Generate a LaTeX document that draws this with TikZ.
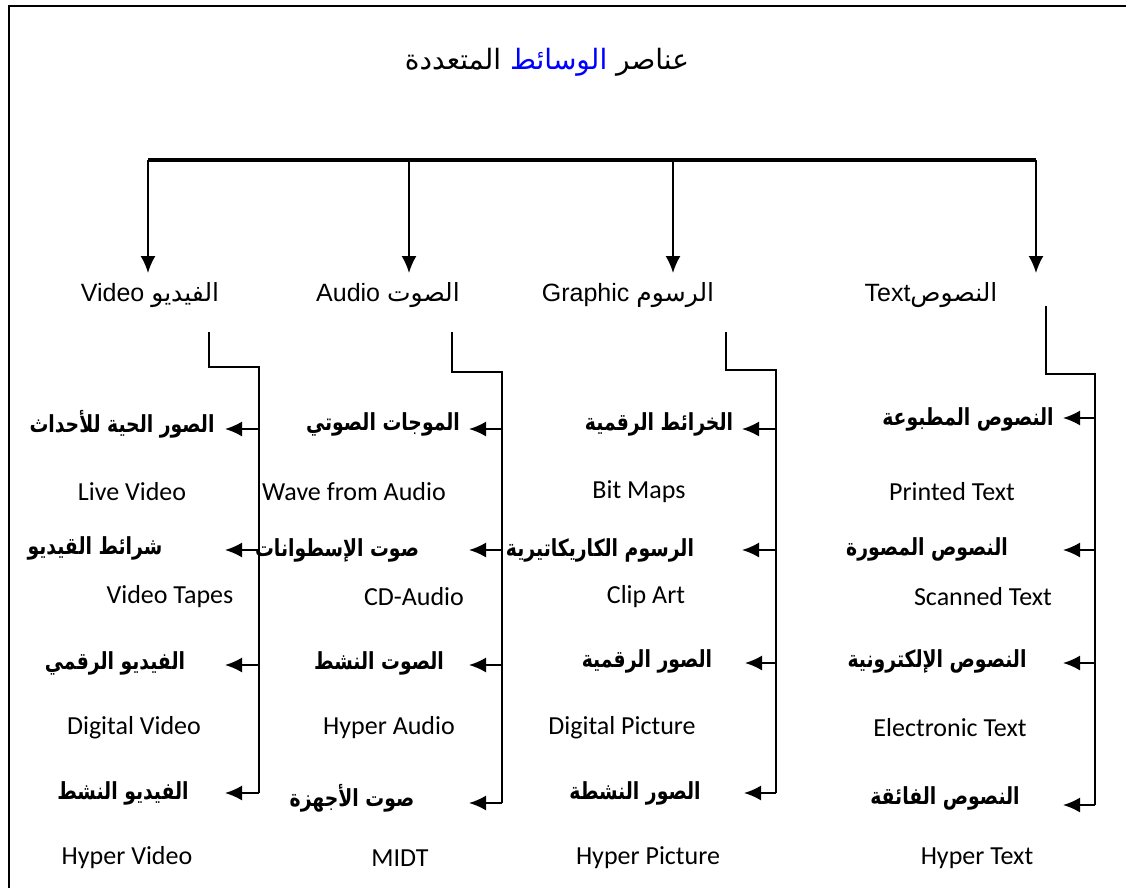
\documentclass[tikz,border=0pt]{standalone}
\usepackage{fontspec}
\setmainfont{Carlito}
\newfontfamily\arabicfont[Script=Arabic]{DejaVu Sans}
\newfontfamily\arbold[Script=Arabic,FakeStretch=0.8]{DejaVu Sans}
\newfontfamily\arialfont{Liberation Sans}
\TeXXeTstate=1
\usetikzlibrary{arrows.meta}
\begin{document}
\begin{tikzpicture}[x=1pt,y=-1pt,
  ln/.style={line width=1.9pt},
  arr/.style={ln,-{Latex[length=17pt,width=15pt]}},
  ar/.style={inner sep=0pt,font=\arbold\bfseries\fontsize{23.5}{27}\selectfont},
  en/.style={inner sep=0pt,font=\fontsize{26}{30}\selectfont},
  hd/.style={inner sep=0pt,font=\arialfont\fontsize{25}{29}\selectfont},
  ttl/.style={inner sep=0pt,font=\arabicfont\fontsize{28}{32}\selectfont}
]
\useasboundingbox (0,0) rectangle (1126,888);
\fill[white] (0,0) rectangle (1126,888);

% title
\node[ttl] (title) at (547,62) {{\beginR المتعددة\endR} {\color{blue}\beginR الوسائط\endR} {\beginR عناصر\endR}};

% bar and drops
\coordinate (b1) at (148,160);
\coordinate (b2) at (409,160);
\coordinate (b3) at (673,160);
\coordinate (b4) at (1036,160);
\coordinate (t1) at (148,273);
\coordinate (t2) at (409,273);
\coordinate (t3) at (673,273);
\coordinate (t4) at (1036,273);
\draw[line width=3.6pt] (b1) -- (b4);
\foreach \i in {1,2,3,4} \draw[arr] (b\i) -- (t\i);

% headings
\node[hd] (hv) at (150,295) {Video {\arabicfont\beginR الفيديو\endR}};
\node[hd] (ha) at (388,295) {Audio {\arabicfont\beginR الصوت\endR}};
\node[hd] (hg) at (628,295) {Graphic {\arabicfont\beginR الرسوم\endR}};
\node[hd] (ht) at (931,295) {Text{\arabicfont\beginR النصوص\endR}};

% ---- Video column
\node[ar] (v1) at (122,424) {\beginR الصور الحية للأحداث\endR};
\node[en] (v1e) at (132,492) {Live Video};
\node[ar] (v2) at (95,548) {\beginR شرائط القيديو\endR};
\node[en] (v2e) at (170,597) {Video Tapes};
\node[ar] (v3) at (115,663) {\beginR الفيديو الرقمي\endR};
\node[en] (v3e) at (134,728) {Digital Video};
\node[ar] (v4) at (123,793) {\beginR الفيديو النشط\endR};
\node[en] (v4e) at (127,858) {Hyper Video};
\coordinate (vt) at (209,332);
\coordinate (vk1) at (209,367);
\coordinate (vk2) at (259,367);
\coordinate (vs1) at (259,429);
\coordinate (vs2) at (259,550);
\coordinate (vs3) at (259,665);
\coordinate (vs4) at (259,793);
\coordinate (va1) at (225,429);
\coordinate (va2) at (225,550);
\coordinate (va3) at (225,665);
\coordinate (va4) at (225,793);
\draw[ln] (vt) -- (vk1) -- (vk2) -- (vs4);
\foreach \i in {1,2,3,4} \draw[arr] (vs\i) -- (va\i);

% ---- Audio column
\node[ar] (a1) at (383,424) {\beginR الموجات الصوتي\endR};
\node[en] (a1e) at (354,492) {Wave from Audio};
\node[ar] (a2) at (337,550) {\beginR صوت الإسطوانات\endR};
\node[en] (a2e) at (414,597) {CD-Audio};
\node[ar] (a3) at (379,663) {\beginR الصوت النشط\endR};
\node[en] (a3e) at (389,728) {Hyper Audio};
\node[ar] (a4) at (352,798) {\beginR صوت الأجهزة\endR};
\node[en] (a4e) at (400,858) {MIDT};
\coordinate (at) at (452,332);
\coordinate (ak1) at (452,372);
\coordinate (ak2) at (502,372);
\coordinate (as1) at (502,429);
\coordinate (as2) at (502,550);
\coordinate (as3) at (502,665);
\coordinate (as4) at (502,803);
\coordinate (aa1) at (469,429);
\coordinate (aa2) at (469,550);
\coordinate (aa3) at (469,665);
\coordinate (aa4) at (469,803);
\draw[ln] (at) -- (ak1) -- (ak2) -- (as4);
\foreach \i in {1,2,3,4} \draw[arr] (as\i) -- (aa\i);

% ---- Graphic column
\node[ar] (g1) at (659,424) {\beginR الخرائط الرقمية\endR};
\node[en] (g1e) at (639,492) {Bit Maps};
\node[ar] (g2) at (600,550) {\beginR الرسوم الكاريكاتيرية\endR};
\node[en] (g2e) at (646,597) {Clip Art};
\node[ar] (g3) at (647,661) {\beginR الصور الرقمية\endR};
\node[en] (g3e) at (622,728) {Digital Picture};
\node[ar] (g4) at (635,793) {\beginR الصور النشطة\endR};
\node[en] (g4e) at (648,858) {Hyper Picture};
\coordinate (gt) at (726,332);
\coordinate (gk1) at (726,370);
\coordinate (gk2) at (776,370);
\coordinate (gs1) at (776,429);
\coordinate (gs2) at (776,550);
\coordinate (gs3) at (776,663);
\coordinate (gs4) at (776,793);
\coordinate (ga1) at (742,429);
\coordinate (ga2) at (742,550);
\coordinate (ga3) at (745,663);
\coordinate (ga4) at (744,793);
\draw[ln] (gt) -- (gk1) -- (gk2) -- (gs4);
\foreach \i in {1,2,3,4} \draw[arr] (gs\i) -- (ga\i);

% ---- Text column
\node[ar] (x1) at (968,419) {\beginR النصوص المطبوعة\endR};
\node[en] (x1e) at (952,492) {Printed Text};
\node[ar] (x2) at (927,549) {\beginR النصوص المصورة\endR};
\node[en] (x2e) at (983,597) {Scanned Text};
\node[ar] (x3) at (937,661) {\beginR النصوص الإلكترونية\endR};
\node[en] (x3e) at (950,728) {Electronic Text};
\node[ar] (x4) at (945,798) {\beginR النصوص الفائقة\endR};
\node[en] (x4e) at (977,858) {Hyper Text};
\coordinate (xt) at (1046,306);
\coordinate (xk1) at (1046,374);
\coordinate (xk2) at (1095,374);
\coordinate (xs1) at (1095,418);
\coordinate (xs2) at (1095,550);
\coordinate (xs3) at (1095,663);
\coordinate (xs4) at (1095,805);
\coordinate (xa1) at (1063,418);
\coordinate (xa2) at (1063,550);
\coordinate (xa3) at (1063,663);
\coordinate (xa4) at (1063,805);
\draw[ln] (xt) -- (xk1) -- (xk2) -- (xs4);
\foreach \i in {1,2,3,4} \draw[arr] (xs\i) -- (xa\i);

% frame (left and top edges only) and clean right strip
\fill[white] (1105,0) rectangle (1126,888);
\draw[line width=1.8pt] (9,888) -- (9,6) -- (1126,6);
\end{tikzpicture}
\end{document}
